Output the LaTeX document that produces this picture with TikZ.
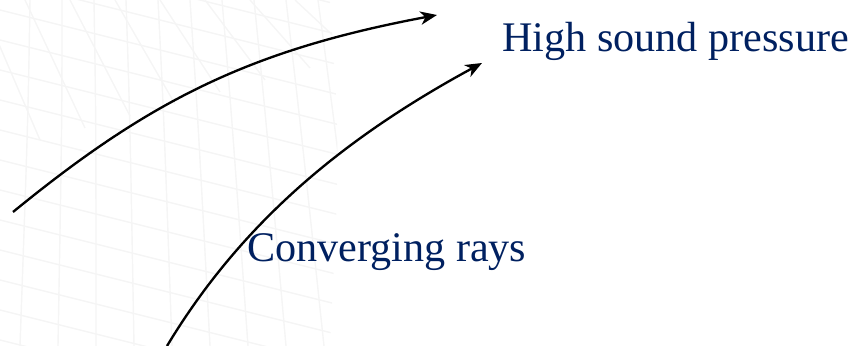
\documentclass[tikz,border=0pt]{standalone}
\usepackage{fontspec}
\setmainfont{Liberation Serif}
\usetikzlibrary{arrows.meta,positioning}
\definecolor{labelblue}{RGB}{0,32,96}
\tikzset{
  ray/.style={-{Stealth[length=5mm,width=4mm,inset=1.5mm]}, line width=2pt, black},
  raylabel/.style={inner sep=0pt, anchor=base west, text=labelblue, font=\fontsize{36}{43}\selectfont},
  bggrid/.style={draw=black!4, line width=1.2pt}
}
\begin{document}
\begin{tikzpicture}[x=0.03cm,y=-0.03cm]
\useasboundingbox (0,0) rectangle (855,346);
% faint background grid
\begin{scope}
\clip (0,0) -- (330,0) .. controls (340,150) .. (330,346) -- (0,346) -- cycle;
\foreach \i in {0,...,10}
  \draw[bggrid] (30+32*\i,0) .. controls (28+34*\i,120) .. (20+38*\i,346);
\foreach \j in {-4,...,12}
  \draw[bggrid] (0,10+30*\j) -- (360,100+30*\j);
\foreach \k in {0,...,7}
  \draw[bggrid] (-20+45*\k,0) -- (40+45*\k,140-12*\k);
\end{scope}
% labels
\node[raylabel] (high) at (502,52) {High sound pressure};
\node[raylabel] (conv) at (247,262) {Converging rays};
% rays
\coordinate (r1s) at (13,212);
\coordinate (r1e) at (437,15);
\coordinate (r2s) at (167,346);
\coordinate (r2e) at (482,63);
\draw[ray] (r1s) .. controls (150,100) and (250,50) .. (r1e);
\draw[ray] (r2s) .. controls (240,225) and (340,140) .. (r2e);
\end{tikzpicture}
\end{document}
